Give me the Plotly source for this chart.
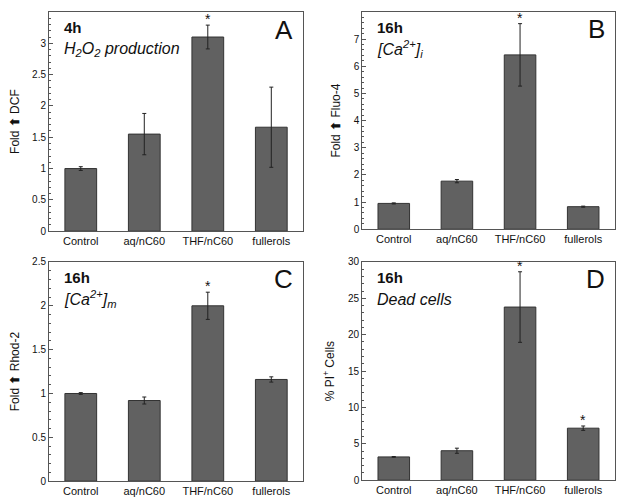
import plotly.graph_objects as go

categories = ["Control", "aq/nC60", "THF/nC60", "fullerols"]

a_vals = [1.0, 1.55, 3.1, 1.66]
a_err = [0.03, 0.33, 0.19, 0.64]
b_vals = [0.95, 1.77, 6.42, 0.83]
b_err = [0.02, 0.06, 1.15, 0.02]
c_vals = [1.0, 0.92, 2.0, 1.16]
c_err = [0.01, 0.04, 0.155, 0.03]
d_vals = [3.2, 4.05, 23.8, 7.15]
d_err = [0.05, 0.35, 4.85, 0.3]

arrow = "<b>⬆</b>"
panels = [
    dict(vals=a_vals, err=a_err, letter="A", time="4h", label="<i>H<sub>2</sub>O<sub>2</sub> production</i>",
         ytitle="Fold " + arrow + " DCF", yrange=[0, 3.5], dtick=0.5, minor=0.1, stars=[2],
         xd=[0.0666, 0.479], yd=[0.550, 0.992]),
    dict(vals=b_vals, err=b_err, letter="B", time="16h", label="<i>[Ca<sup>2+</sup>]<sub>i</sub></i>",
         ytitle="Fold " + arrow + " Fluo-4", yrange=[0, 8], dtick=1, minor=0.2, stars=[2],
         xd=[0.575, 0.985], yd=[0.554, 0.992]),
    dict(vals=c_vals, err=c_err, letter="C", time="16h", label="<i>[Ca<sup>2+</sup>]<sub>m</sub></i>",
         ytitle="Fold " + arrow + " Rhod-2", yrange=[0, 2.5], dtick=0.5, minor=0.1, stars=[2],
         xd=[0.0666, 0.479], yd=[0.046, 0.488]),
    dict(vals=d_vals, err=d_err, letter="D", time="16h", label="<i>Dead cells</i>",
         ytitle="% PI<sup>+</sup> Cells", yrange=[0, 30], dtick=5, minor=1, stars=[2, 3],
         xd=[0.575, 0.985], yd=[0.048, 0.488]),
]

fig = go.Figure()
font = "Liberation Sans, Arial, sans-serif"
axcol = "#555555"
annotations = []

for i, p in enumerate(panels):
    n = "" if i == 0 else str(i + 1)
    xa = "x" + n
    ya = "y" + n
    fig.add_trace(go.Bar(
        x=categories, y=p["vals"], xaxis=xa, yaxis=ya, width=0.5,
        marker=dict(color="#616161", line=dict(color="#333333", width=1)),
        error_y=dict(type="data", array=p["err"], visible=True, color="#222222", thickness=1, width=2),
        showlegend=False, hoverinfo="skip"))
    fig.layout["xaxis" + n] = dict(
        domain=p["xd"], anchor=ya, range=[-0.5, 3.5], showline=True, linecolor=axcol, linewidth=1,
        mirror=True, ticks="", automargin=False,
        tickfont=dict(size=11, color="#111", family=font), showgrid=False)
    fig.layout["yaxis" + n] = dict(
        domain=p["yd"], anchor=xa, range=p["yrange"], dtick=p["dtick"], showline=True, linecolor=axcol,
        linewidth=1, mirror=True, ticks="inside", ticklen=4, tickcolor=axcol, showgrid=False, zeroline=False,
        automargin=False,
        minor=dict(dtick=p["minor"], ticks="inside", ticklen=2, tickcolor=axcol),
        tickfont=dict(size=10, color="#111", family=font),
        title=dict(text=p["ytitle"], font=dict(size=12, color="#111", family=font), standoff=10))
    xref = xa + " domain"
    yref = ya + " domain"
    annotations.append(dict(x=0.05, y=0.93, xref=xref, yref=yref, text="<b>" + p["time"] + "</b>",
                            showarrow=False, xanchor="left", yanchor="middle",
                            font=dict(size=15, color="#111", family=font)))
    annotations.append(dict(x=0.05, y=0.83, xref=xref, yref=yref, text=p["label"],
                            showarrow=False, xanchor="left", yanchor="middle",
                            font=dict(size=16, color="#111", family=font)))
    annotations.append(dict(x=0.97, y=0.92, xref=xref, yref=yref, text=p["letter"],
                            showarrow=False, xanchor="right", yanchor="middle",
                            font=dict(size=26, color="#111", family=font)))
    for s in p["stars"]:
        annotations.append(dict(x=categories[s], y=p["vals"][s] + p["err"][s], xref=xa, yref=ya,
                                text="*", showarrow=False, yanchor="bottom", yshift=-4,
                                font=dict(size=14, color="#111", family=font)))

# page body adds an 8px margin, so the figure is sized to the remaining area
fig.update_layout(width=616, height=496, margin=dict(l=0, r=0, t=0, b=0),
                  paper_bgcolor="white", plot_bgcolor="white", annotations=annotations,
                  font=dict(family=font))
fig.write_html("out.html")
